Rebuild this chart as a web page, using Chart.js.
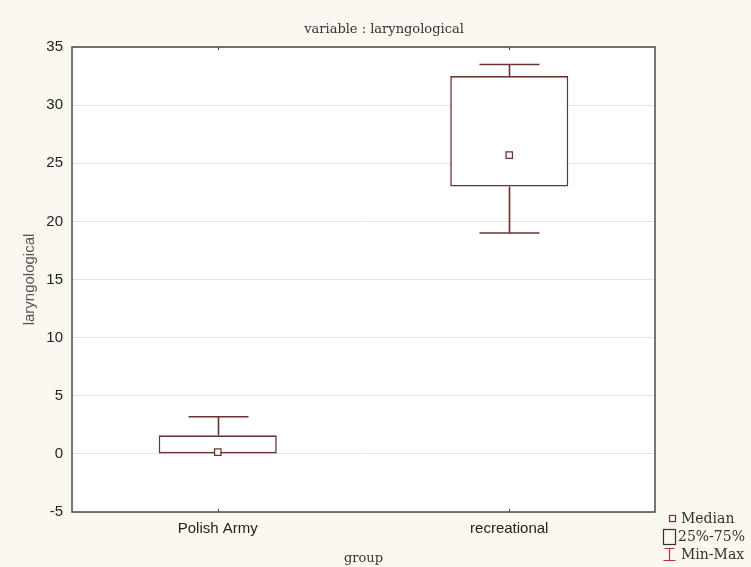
<!DOCTYPE html>
<html><head><meta charset="utf-8">
<script src="https://cdn.jsdelivr.net/npm/chart.js@4"></script>
<style>html,body{margin:0;padding:0;background:#fbf8ef;}</style>
</head><body>
<canvas id="c" width="751" height="567"></canvas>
<script>
const categories = ['Polish Army', 'recreational'];
const minValues = [0, 19.0];
const q1Values = [0, 23.0];
const medianValues = [0.15, 25.7];
const q3Values = [1.6, 32.5];
const maxValues = [3.2, 33.5];
const yTickMin = -5, yTickMax = 35, yTickStep = 5;
const chartTitle = 'variable : laryngological';
const xTitle = 'group';
const yTitle = 'laryngological';
const legendLabels = ['Median', '25%-75%', 'Min-Max'];

const BOX = '#6a3333';
const WHISK = '#6a3333';
const BG = '#fbf8ef';

const bgPlugin = {
  id: 'bg',
  beforeDraw(chart) {
    const {ctx, chartArea: a} = chart;
    ctx.save();
    ctx.fillStyle = BG;
    ctx.fillRect(0, 0, chart.width, chart.height);
    ctx.fillStyle = '#ffffff';
    ctx.fillRect(a.left, a.top, a.right - a.left, a.bottom - a.top);
    ctx.restore();
  }
};

const whiskerPlugin = {
  id: 'whiskers',
  afterDatasetsDraw(chart) {
    const x = chart.scales.x, y = chart.scales.y, ctx = chart.ctx;
    const capHalf = x.width / categories.length * 0.103;
    ctx.save();
    ctx.strokeStyle = WHISK;
    ctx.lineWidth = 1.6;
    categories.forEach((c, i) => {
      const px = Math.round(x.getPixelForValue(i)) + 0.5;
      [[q3Values[i], maxValues[i]], [q1Values[i], minValues[i]]].forEach(([a, b]) => {
        if (a === b) return;
        const ya = y.getPixelForValue(a), yb = y.getPixelForValue(b);
        ctx.beginPath();
        ctx.moveTo(px, ya); ctx.lineTo(px, yb);
        ctx.moveTo(px - capHalf, yb); ctx.lineTo(px + capHalf, yb);
        ctx.stroke();
      });
    });
    ctx.restore();
  },
  afterDraw(chart) {
    const {ctx, chartArea: a} = chart;
    const x = chart.scales.x;
    ctx.save();
    // frame
    ctx.strokeStyle = '#4a4a4a';
    ctx.lineWidth = 1.5;
    ctx.strokeRect(a.left, a.top, a.right - a.left, a.bottom - a.top);
    // small category ticks
    ctx.lineWidth = 1;
    categories.forEach((c, i) => {
      const px = Math.round(x.getPixelForValue(i)) + 0.5;
      ctx.beginPath();
      ctx.moveTo(px, a.top); ctx.lineTo(px, a.top + 3);
      ctx.moveTo(px, a.bottom); ctx.lineTo(px, a.bottom - 3);
      ctx.stroke();
    });
    // title
    ctx.fillStyle = '#333333';
    ctx.font = '13px "DejaVu Serif"';
    ctx.textAlign = 'center';
    ctx.textBaseline = 'middle';
    ctx.fillText(chartTitle, 384, 30);
    // legend
    ctx.textAlign = 'left';
    ctx.font = '14px "DejaVu Serif"';
    const lx = a.right + 8;
    // median
    ctx.strokeStyle = BOX; ctx.lineWidth = 1.2;
    ctx.fillStyle = '#fff';
    ctx.fillRect(lx + 6, a.bottom + 3, 6, 6);
    ctx.strokeRect(lx + 6.5, a.bottom + 3.5, 6, 6);
    ctx.fillStyle = '#333';
    ctx.fillText(legendLabels[0], lx + 18, a.bottom + 7);
    // box
    ctx.strokeStyle = '#333'; ctx.lineWidth = 1.2;
    ctx.strokeRect(lx + 0.5, a.bottom + 17.5, 12, 15);
    ctx.fillText(legendLabels[1], lx + 15, a.bottom + 25);
    // min-max
    ctx.strokeStyle = '#b03040'; ctx.lineWidth = 1.2;
    const ix = lx + 6.5, iy0 = a.bottom + 36, iy1 = a.bottom + 49;
    ctx.beginPath();
    ctx.moveTo(ix - 5, iy0 + 0.5); ctx.lineTo(ix + 5, iy0 + 0.5);
    ctx.moveTo(ix, iy0); ctx.lineTo(ix, iy1);
    ctx.moveTo(ix - 6, iy1 - 0.5); ctx.lineTo(ix + 6, iy1 - 0.5);
    ctx.stroke();
    ctx.fillStyle = '#333';
    ctx.fillText(legendLabels[2], lx + 18, a.bottom + 43);
    ctx.restore();
  }
};

new Chart(document.getElementById('c'), {
  type: 'bar',
  data: {
    labels: categories,
    datasets: [
      {
        type: 'line',
        label: 'Median',
        data: medianValues,
        showLine: false,
        pointStyle: 'rect',
        pointRadius: 4.5,
        pointBorderWidth: 1.3,
        pointBackgroundColor: '#ffffff',
        pointBorderColor: BOX,
        order: 0
      },
      {
        type: 'bar',
        label: '25%-75%',
        data: categories.map((c, i) => [q1Values[i], q3Values[i]]),
        backgroundColor: '#ffffff',
        borderColor: BOX,
        borderWidth: 1.6,
        borderSkipped: false,
        barPercentage: 0.405,
        categoryPercentage: 1.0,
        order: 1
      }
    ]
  },
  options: {
    responsive: false,
    devicePixelRatio: 1,
    animation: false,
    layout: { padding: { top: 47, right: 96, left: 0, bottom: 0 } },
    plugins: {
      legend: { display: false },
      title: { display: false },
      tooltip: { enabled: false }
    },
    scales: {
      x: {
        offset: true,
        grid: { display: false, drawTicks: false },
        border: { display: false },
        ticks: { color: '#222', font: { family: '"Liberation Sans", Arial', size: 15 }, padding: 8 },
        title: { display: true, text: xTitle, color: '#333', font: { family: '"DejaVu Serif"', size: 13 }, padding: { top: 0, bottom: 1 } },
        afterFit(s) { s.height = 55; }
      },
      y: {
        min: yTickMin,
        max: yTickMax,
        ticks: { stepSize: yTickStep, color: '#222', font: { family: '"Liberation Sans", Arial', size: 15 }, padding: 9 },
        grid: { color: '#e3e3e3', drawTicks: false, lineWidth: 1 },
        border: { display: false },
        title: { display: true, text: yTitle, color: '#555', font: { family: '"Liberation Sans", Arial', size: 15 }, padding: { top: 21, bottom: 0 } },
        afterFit(s) { s.width = 72; }
      }
    }
  },
  plugins: [bgPlugin, whiskerPlugin]
});
</script>
</body></html>
